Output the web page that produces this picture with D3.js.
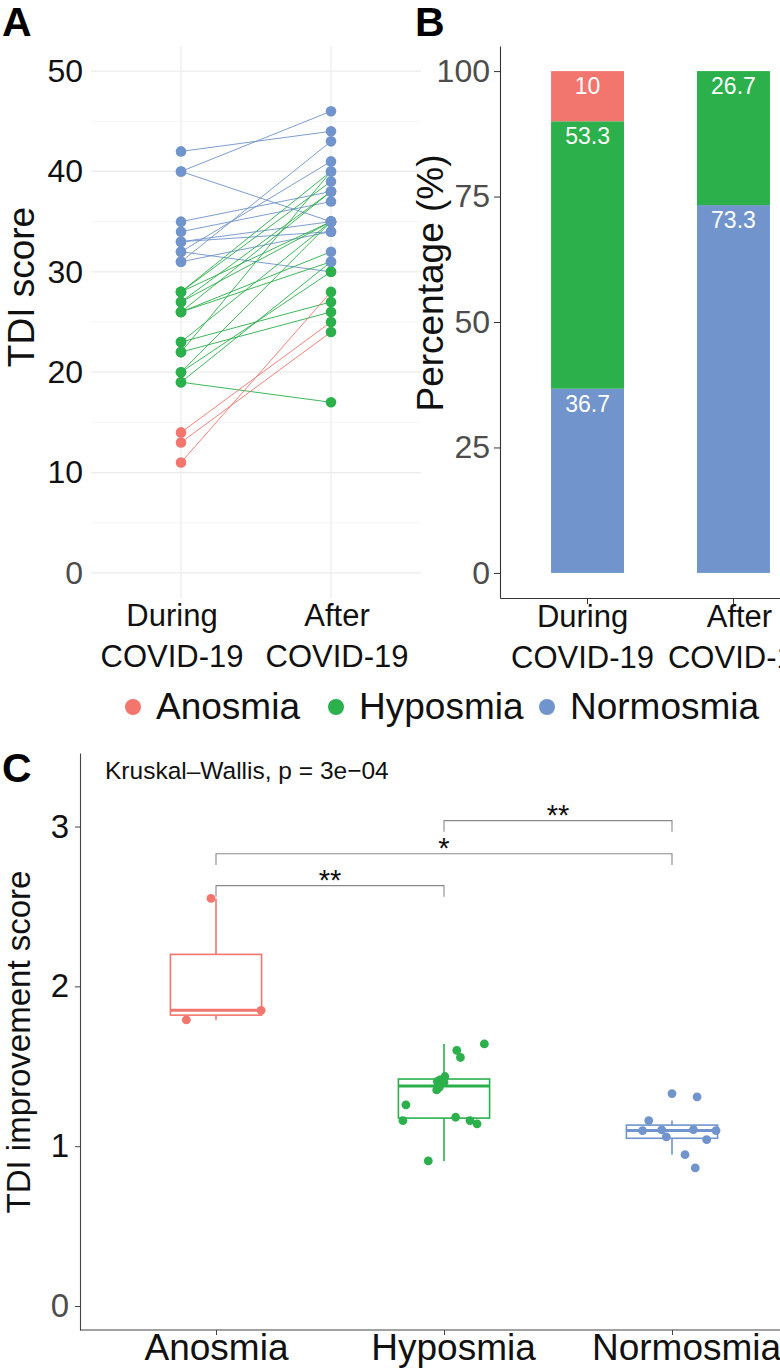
<!DOCTYPE html>
<html><head><meta charset="utf-8">
<script src="https://cdn.jsdelivr.net/npm/d3@7"></script>
<style>body{margin:0;background:#fff}svg{display:block;font-family:"Liberation Sans",Arial,Helvetica,sans-serif}</style>
</head><body><div id="chart"></div>
<script>
// ---------------- data ----------------
const groups = ["Anosmia", "Hyposmia", "Normosmia"];
const groupColors = ["#F3766E", "#2BB04B", "#7094CB"];
const timepoints = ["During", "After"];
const timeLabels = [["During", "COVID-19"], ["After", "COVID-19"]];

// Panel A: TDI score per subject, during and after COVID-19
const tdiDuring = [42, 40, 40, 35, 34, 33, 33, 32, 32, 31, 31,
                   28, 28, 28, 27, 27, 26, 26, 26, 23, 23, 22, 22, 20, 20, 19, 19,
                   14, 13, 11];
const tdiAfter  = [44, 46, 35, 38, 37, 34, 35, 41, 30, 43, 34,
                   40, 39, 35, 38, 35, 32, 31, 38, 35, 27, 26, 40, 35, 30, 31, 17,
                   25, 24, 28];
const groupDuring = ["Normosmia","Normosmia","Normosmia","Normosmia","Normosmia","Normosmia","Normosmia","Normosmia","Normosmia","Normosmia","Normosmia",
                     "Hyposmia","Hyposmia","Hyposmia","Hyposmia","Hyposmia","Hyposmia","Hyposmia","Hyposmia","Hyposmia","Hyposmia","Hyposmia","Hyposmia","Hyposmia","Hyposmia","Hyposmia","Hyposmia",
                     "Anosmia","Anosmia","Anosmia"];
const groupAfter  = ["Normosmia","Normosmia","Normosmia","Normosmia","Normosmia","Normosmia","Normosmia","Normosmia","Hyposmia","Normosmia","Normosmia",
                     "Normosmia","Normosmia","Normosmia","Normosmia","Normosmia","Normosmia","Normosmia","Normosmia","Normosmia","Hyposmia","Hyposmia","Normosmia","Normosmia","Hyposmia","Normosmia","Hyposmia",
                     "Hyposmia","Hyposmia","Hyposmia"];
const tdiTicks = [0, 10, 20, 30, 40, 50];
const tdiMinor = [5, 15, 25, 35, 45];

// Panel B: percentage per group
const pctDuring = [10, 53.3, 36.7];
const pctAfter  = [0, 26.7, 73.3];
const pctTicks = [0, 25, 50, 75, 100];

// Panel C: TDI improvement score per group
const impAnosmia   = [2.55, 1.85, 1.79];
const impHyposmia  = [1.64, 1.60, 1.555, 1.436, 1.415, 1.405, 1.384, 1.352, 1.37, 1.40, 1.259, 1.16, 1.181, 1.16, 1.14, 0.908];
const impNormosmia = [1.329, 1.309, 1.16, 1.098, 1.102, 1.058, 1.104, 1.098, 1.041, 0.947, 0.864];
// horizontal jitter (fraction of category spacing)
const jitAnosmia   = [-0.022, 0.198, -0.13];
const jitHyposmia  = [0.177, 0.056, 0.072, 0.004, -0.018, -0.029, -0.025, -0.032, -0.02, 0.0, -0.167, -0.18, 0.051, 0.114, 0.145, -0.069];
const jitNormosmia = [0.0, 0.11, -0.102, -0.129, -0.045, -0.025, 0.094, 0.193, 0.152, 0.057, 0.102];
const impTicks = [0, 1, 2, 3];
const comparisons = [["Anosmia", "Hyposmia", 2.63, "**"], ["Anosmia", "Normosmia", 2.83, "*"], ["Hyposmia", "Normosmia", 3.037, "**"]];
const kwLabel = "Kruskal\u2013Wallis, p = 3e\u221204";

// ---------------- drawing ----------------
const W = 780, H = 1372;
const svg = d3.select("#chart").append("svg").attr("width", W).attr("height", H);
svg.append("rect").attr("width", W).attr("height", H).attr("fill", "#fff");
const color = d3.scaleOrdinal().domain(groups).range(groupColors);
const FONT = 31;

// ===== Panel A =====
const yA = d3.scaleLinear().domain([-2.5, 52.5]).range([598, 46]);
const xA = d3.scalePoint().domain(timepoints).range([181, 331]);
const gA = svg.append("g");
gA.selectAll("line.minor").data(tdiMinor).join("line")
  .attr("x1", 91).attr("x2", 421).attr("y1", d => yA(d)).attr("y2", d => yA(d))
  .attr("stroke", "#F3F3F3").attr("stroke-width", 0.8);
gA.selectAll("line.major").data(tdiTicks).join("line")
  .attr("x1", 91).attr("x2", 421).attr("y1", d => yA(d)).attr("y2", d => yA(d))
  .attr("stroke", "#EBEBEB").attr("stroke-width", 1.2);
gA.selectAll("line.vg").data(timepoints).join("line")
  .attr("x1", d => xA(d)).attr("x2", d => xA(d)).attr("y1", 46).attr("y2", 598)
  .attr("stroke", "#EBEBEB").attr("stroke-width", 1.2);

const subjects = tdiDuring.map((v, i) => ({during: v, after: tdiAfter[i], g0: groupDuring[i], g1: groupAfter[i]}));
gA.selectAll("line.pair").data(subjects).join("line")
  .attr("x1", xA("During")).attr("x2", xA("After"))
  .attr("y1", d => yA(d.during)).attr("y2", d => yA(d.after))
  .attr("stroke", d => color(d.g0)).attr("stroke-width", 1).attr("opacity", 0.9);
gA.selectAll("circle.d").data(subjects).join("circle")
  .attr("cx", xA("During")).attr("cy", d => yA(d.during)).attr("r", 5.3)
  .attr("fill", d => color(d.g0));
gA.selectAll("circle.a").data(subjects).join("circle")
  .attr("cx", xA("After")).attr("cy", d => yA(d.after)).attr("r", 5.3)
  .attr("fill", d => color(d.g1));

const axA = gA.append("g").attr("transform", "translate(91,0)")
  .call(d3.axisLeft(yA).tickValues(tdiTicks).tickSize(0).tickPadding(8));
axA.select(".domain").remove();
axA.selectAll("text").attr("font-size", 32).attr("font-family", null)
  .attr("fill", d => d === 0 ? "#4D4D4D" : "#111");

const xlabA = gA.selectAll("text.xl").data(timepoints).join("text")
  .attr("text-anchor", "middle").attr("font-size", FONT).attr("fill", "#111");
xlabA.each(function(d, i) {
  const t = d3.select(this);
  const cx = xA(d) + (i === 0 ? -9 : 6);
  timeLabels[i].forEach((s, k) => t.append("tspan").attr("x", cx).attr("y", 626 + 41 * k).text(s));
});
svg.append("text").attr("transform", "translate(34,287) rotate(-90)")
  .attr("text-anchor", "middle").attr("font-size", 37).attr("fill", "#111").text("TDI score");

// ===== Panel B =====
const yB = d3.scaleLinear().domain([-5, 105]).range([598, 46]);
const xB = d3.scaleBand().domain(timepoints).range([500, 821]).paddingInner(0.5).paddingOuter(0.35);
const gB = svg.append("g");
const stackOrder = ["Normosmia", "Hyposmia", "Anosmia"];
const pctRows = timepoints.map((t, i) => {
  const src = i === 0 ? pctDuring : pctAfter;
  const row = {time: t};
  groups.forEach((g, k) => row[g] = src[k]);
  return row;
});
const stacked = d3.stack().keys(stackOrder)(pctRows);
const layers = gB.selectAll("g.layer").data(stacked).join("g")
  .attr("fill", d => color(d.key));
layers.selectAll("rect").data(d => d).join("rect")
  .attr("x", p => xB(p.data.time)).attr("width", xB.bandwidth())
  .attr("y", p => yB(p[1])).attr("height", p => yB(p[0]) - yB(p[1]));
layers.selectAll("text").data(d => d.filter(p => p[1] - p[0] > 0)).join("text")
  .attr("x", p => xB(p.data.time) + xB.bandwidth() / 2)
  .attr("y", p => yB(p[1]) + 23)
  .attr("text-anchor", "middle").attr("font-size", 23).attr("fill", "#fff")
  .text(p => +(p[1] - p[0]).toFixed(1));

const axB = gB.append("g").attr("transform", "translate(500,0)")
  .call(d3.axisLeft(yB).tickValues(pctTicks).tickSize(6).tickPadding(4).tickSizeOuter(0));
axB.select(".domain").attr("stroke", "#333").attr("stroke-width", 1.1);
axB.selectAll(".tick line").attr("stroke", "#333");
axB.selectAll("text").attr("font-size", 32).attr("font-family", null).attr("fill", "#4D4D4D");
const axBx = gB.append("g").attr("transform", "translate(0,598)")
  .call(d3.axisBottom(xB).tickSize(6).tickSizeOuter(0).tickFormat(""));
axBx.select(".domain").attr("stroke", "#333").attr("stroke-width", 1.1);
axBx.selectAll(".tick line").attr("stroke", "#333");
const xlabB = gB.selectAll("text.xl").data(timepoints).join("text")
  .attr("text-anchor", "middle").attr("font-size", FONT).attr("fill", "#111");
xlabB.each(function(d, i) {
  const t = d3.select(this);
  const cx = xB(d) + xB.bandwidth() / 2 + (i === 0 ? -5 : 6);
  timeLabels[i].forEach((s, k) => t.append("tspan").attr("x", cx).attr("y", 627 + 41 * k).text(s));
});
svg.append("text").attr("transform", "translate(443,283) rotate(-90)")
  .attr("text-anchor", "middle").attr("font-size", 37).attr("fill", "#111").text("Percentage (%)");

// ===== Legend =====
const legX = [133, 336, 547];
const leg = svg.append("g").selectAll("g").data(groups).join("g")
  .attr("transform", (d, i) => `translate(${legX[i]},707)`);
leg.append("circle").attr("r", 8).attr("fill", d => color(d));
leg.append("text").attr("x", 23).attr("y", 12).attr("font-size", 37).attr("fill", "#111").text(d => d);

// ===== Panel C =====
const yC = d3.scaleLinear().domain([-0.15, 3.46]).range([1330, 753]);
const xC = d3.scalePoint().domain(groups).range([216, 672]);
const step = xC.step();
const gC = svg.append("g");
const impData = [impAnosmia, impHyposmia, impNormosmia];
const jitData = [jitAnosmia, jitHyposmia, jitNormosmia];
const boxHalf = 0.2 * step;
groups.forEach((g, gi) => {
  const vals = impData[gi].slice().sort(d3.ascending);
  const q1 = d3.quantile(vals, 0.25), med = d3.quantile(vals, 0.5), q3 = d3.quantile(vals, 0.75);
  const iqr = q3 - q1;
  const lo = d3.min(vals.filter(v => v >= q1 - 1.5 * iqr));
  const hi = d3.max(vals.filter(v => v <= q3 + 1.5 * iqr));
  const cx = xC(g), c = color(g);
  const b = gC.append("g").attr("stroke", c).attr("fill", "none");
  b.append("line").attr("x1", cx).attr("x2", cx).attr("y1", yC(hi)).attr("y2", yC(q3)).attr("stroke-width", 1.6);
  b.append("line").attr("x1", cx).attr("x2", cx).attr("y1", yC(q1)).attr("y2", yC(lo)).attr("stroke-width", 1.6);
  b.append("rect").attr("x", cx - boxHalf).attr("width", 2 * boxHalf)
    .attr("y", yC(q3)).attr("height", yC(q1) - yC(q3)).attr("fill", "#fff").attr("stroke-width", 1.6);
  b.append("line").attr("x1", cx - boxHalf).attr("x2", cx + boxHalf).attr("y1", yC(med)).attr("y2", yC(med)).attr("stroke-width", 3);
  gC.append("g").selectAll("circle").data(impData[gi]).join("circle")
    .attr("cx", (d, k) => cx + jitData[gi][k] * step).attr("cy", d => yC(d))
    .attr("r", 4.4).attr("fill", c);
});
// brackets
const tickLen = 0.07;
const br = gC.selectAll("g.br").data(comparisons).join("g");
br.append("path").attr("fill", "none").attr("stroke", "#8A8A8A").attr("stroke-width", 1.1)
  .attr("d", d => `M${xC(d[0])},${yC(d[2] - tickLen)}V${yC(d[2])}H${xC(d[1])}V${yC(d[2] - tickLen)}`);
br.append("text").attr("x", d => (xC(d[0]) + xC(d[1])) / 2).attr("y", d => yC(d[2]) + 4)
  .attr("text-anchor", "middle").attr("font-size", 29).attr("fill", "#111").text(d => d[3]);
gC.append("text").attr("x", 105).attr("y", 779).attr("font-size", 24.5).attr("fill", "#111").text(kwLabel);

const axC = gC.append("g").attr("transform", "translate(80,0)")
  .call(d3.axisLeft(yC).tickValues(impTicks).tickFormat(d3.format("d")).tickSize(5).tickPadding(6).tickSizeOuter(0));
axC.select(".domain").attr("stroke", "#444").attr("stroke-width", 1.1);
axC.selectAll(".tick line").attr("stroke", "#444");
axC.selectAll("text").attr("font-size", 33).attr("font-family", null)
  .attr("fill", d => d === 0 ? "#4D4D4D" : "#111");
const labelShift = [0, 9, 14];
const axCx = gC.append("g").attr("transform", "translate(0,1330)")
  .call(d3.axisBottom(xC).tickSize(5).tickSizeOuter(0));
axCx.select(".domain").attr("d", "M80,0H808").attr("stroke", "#444").attr("stroke-width", 1.1);
axCx.selectAll(".tick line").attr("stroke", "#444");
axCx.selectAll("text").attr("font-size", 37).attr("font-family", null).attr("fill", "#111")
  .attr("y", 0).attr("dy", 30).attr("dx", (d, i) => labelShift[i]);
svg.append("text").attr("transform", "translate(30,1042) rotate(-90)")
  .attr("text-anchor", "middle").attr("font-size", 33).attr("fill", "#111").text("TDI improvement score");

// ===== Panel letters =====
const letters = [["A", 2, 36], ["B", 415, 36], ["C", 2, 782]];
svg.selectAll("text.letter").data(letters).join("text")
  .attr("x", d => d[1]).attr("y", d => d[2]).attr("font-size", 41).attr("font-weight", "bold")
  .attr("fill", "#000").text(d => d[0]);
</script></body></html>
